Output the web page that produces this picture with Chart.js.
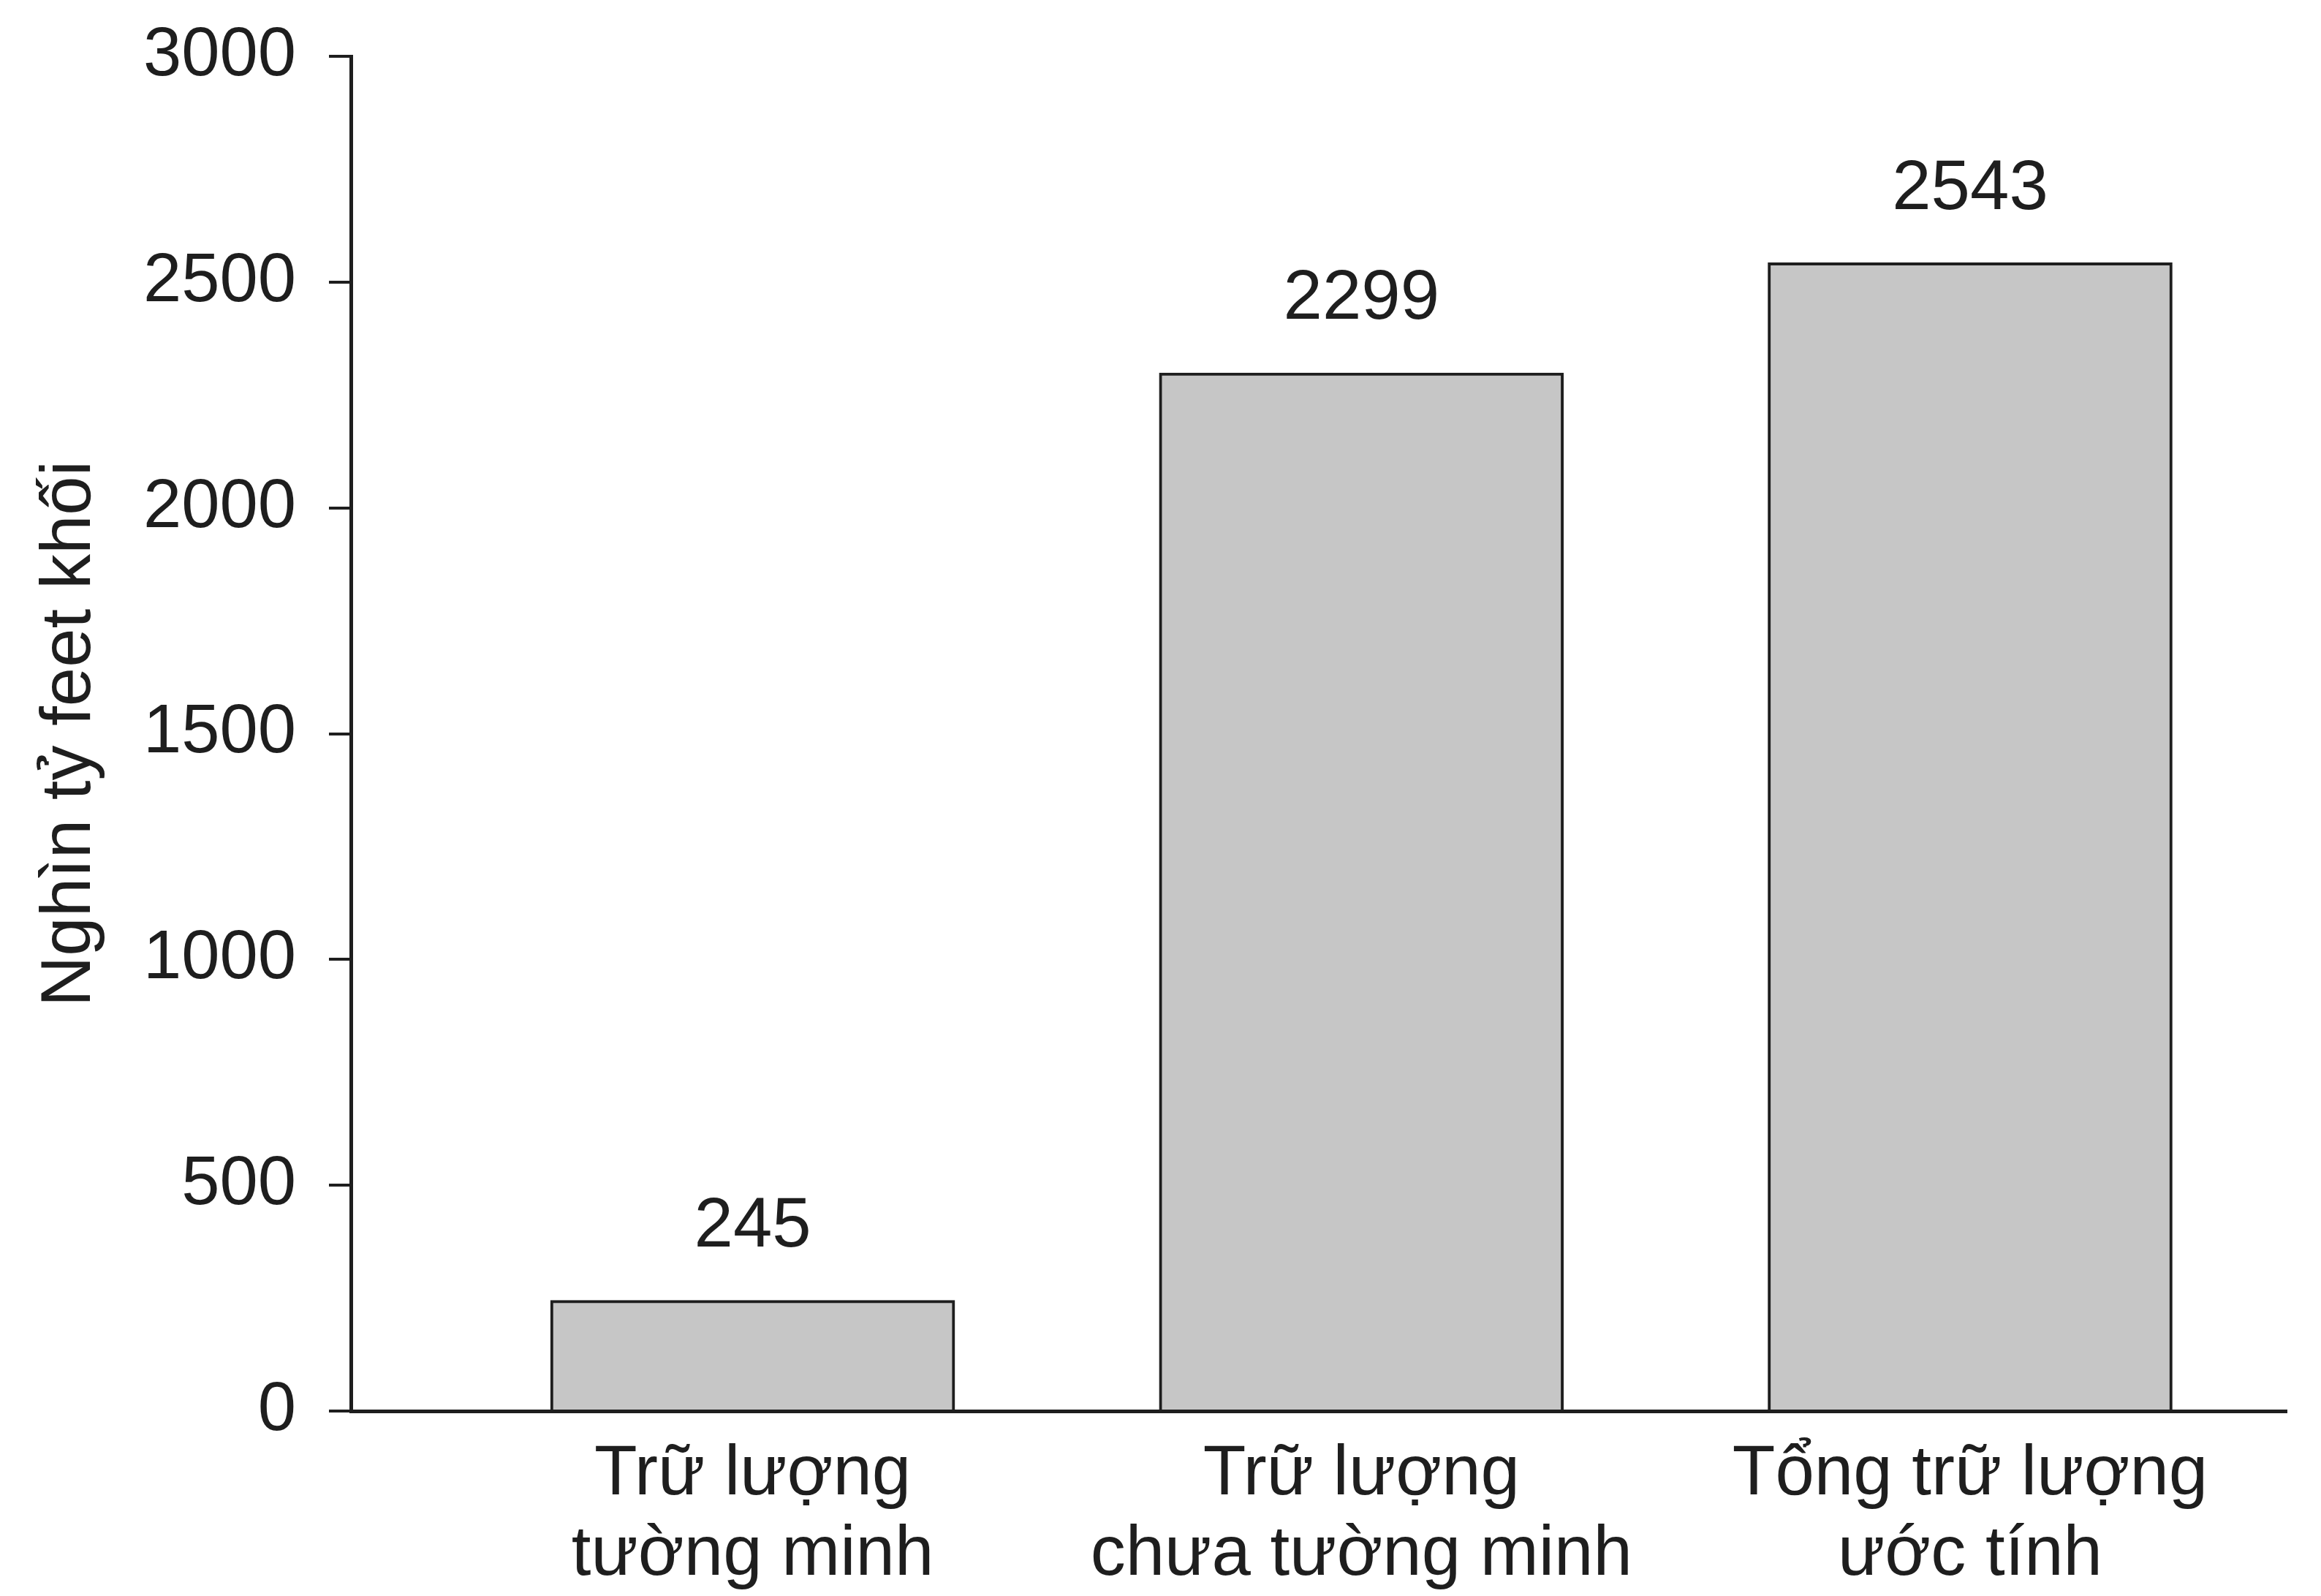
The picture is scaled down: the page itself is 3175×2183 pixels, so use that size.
<!DOCTYPE html>
<html>
<head>
<meta charset="utf-8">
<script src="https://cdn.jsdelivr.net/npm/chart.js@4.4.1/dist/chart.umd.min.js"></script>
<style>
  html, body { margin: 0; padding: 0; background: #fff; }
  #wrap { width: 3175px; height: 2183px; }
</style>
</head>
<body>
<div id="wrap"><canvas id="reserveChart" width="3175" height="2183"></canvas></div>
<script>
// Chart data
const categories = [
    ['Trữ lượng', 'tường minh'],
    ['Trữ lượng', 'chưa tường minh'],
    ['Tổng trữ lượng', 'ước tính']
];
const positions = [1, 2, 3];
const reserves = [245, 2299, 2543];
const yTicks = [0, 500, 1000, 1500, 2000, 2500, 3000];
const yTitle = 'Nghìn tỷ feet khối';

const FONT = "'Liberation Sans', Arial, sans-serif";
const INK = '#1e1e1e';

// value labels above each bar
const valueLabels = {
    id: 'valueLabels',
    afterDatasetsDraw(chart) {
        const ctx = chart.ctx;
        const meta = chart.getDatasetMeta(0);
        ctx.save();
        ctx.font = '96px ' + FONT;
        ctx.fillStyle = INK;
        ctx.textAlign = 'center';
        ctx.textBaseline = 'middle';
        meta.data.forEach((bar, i) => {
            ctx.fillText(String(reserves[i]), bar.x, bar.y - 100);
        });
        ctx.restore();
    }
};

new Chart(document.getElementById('reserveChart'), {
    type: 'bar',
    data: {
        datasets: [{
            data: positions.map((p, i) => ({ x: p, y: reserves[i] })),
            backgroundColor: '#c6c6c6',
            borderColor: INK,
            borderWidth: 4,
            barThickness: 553
        }]
    },
    options: {
        responsive: false,
        animation: false,
        layout: { padding: { top: 77, right: 47, left: 0, bottom: 0 } },
        plugins: {
            legend: { display: false },
            tooltip: { enabled: false }
        },
        scales: {
            x: {
                type: 'linear',
                offset: false,
                min: 0.34,
                max: 3.52,
                afterBuildTicks(scale) {
                    scale.ticks = positions.map(v => ({ value: v }));
                },
                afterFit(scale) { scale.height = 253; },
                grid: { display: false },
                border: { display: true, color: INK, width: 5 },
                ticks: {
                    autoSkip: false,
                    maxRotation: 0,
                    padding: 24,
                    color: INK,
                    font: { family: FONT, size: 96, lineHeight: 1.15 },
                    callback: (v) => categories[positions.indexOf(v)] || ''
                }
            },
            y: {
                min: 0,
                max: 3000,
                afterBuildTicks(scale) {
                    scale.ticks = yTicks.map(v => ({ value: v }));
                },
                afterFit(scale) {
                    scale.width = 480;
                    scale.paddingTop = 0;
                    scale.paddingBottom = 0;
                },
                grid: {
                    drawOnChartArea: false,
                    tickLength: 30,
                    color: INK,
                    lineWidth: 4
                },
                border: { display: true, color: INK, width: 5 },
                ticks: {
                    padding: 45,
                    color: INK,
                    font: { family: FONT, size: 94 },
                    callback: (v) => String(v)
                },
                title: {
                    display: true,
                    text: yTitle,
                    color: INK,
                    font: { family: FONT, size: 96 },
                    padding: { top: 39, bottom: 0 }
                }
            }
        }
    },
    plugins: [valueLabels]
});
</script>
</body>
</html>
